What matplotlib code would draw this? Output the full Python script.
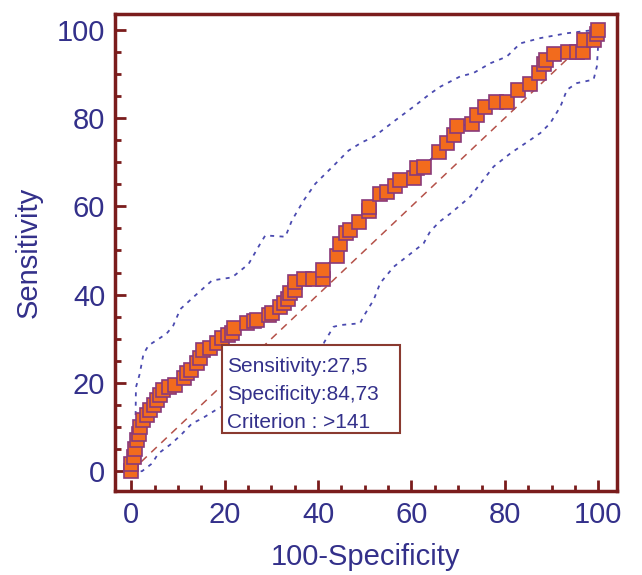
import numpy as np
import matplotlib.pyplot as plt
from matplotlib.patches import Rectangle
from matplotlib.ticker import MultipleLocator

# ROC curve (100-Specificity, Sensitivity)
roc_x = [0, 0, 0.5, 0.9, 1.2, 1.6, 1.9, 2.6, 3.4, 4.1, 4.8, 5.5, 6.2, 6.9, 8.0, 9.4,
         11.2, 11.9, 12.8, 14.1, 14.8, 15.3, 16.9, 18.3, 19.4, 20.8, 21.6, 21.9, 24.8,
         26.2, 27.0, 29.4, 30.1, 31.9, 32.6, 33.5, 34.0, 35.1, 35.1, 37.0, 38.9, 41.0,
         41.0, 44.0, 44.8, 46.0, 46.9, 48.7, 51.0, 51.0, 53.3, 54.7, 56.5, 57.6, 60.5,
         61.2, 62.6, 65.8, 67.5, 69.0, 69.7, 73.0, 74.1, 75.8, 78.2, 80.4, 82.8, 85.4,
         87.2, 88.4, 88.9, 90.6, 93.6, 95.4, 96.8, 97.0, 99.0, 99.7, 100]
roc_y = [0, 1.7, 3.2, 5.1, 7.0, 8.5, 10.0, 11.6, 12.7, 13.8, 15.0, 16.1, 17.2, 18.4, 19.1, 19.5,
         21.0, 22.2, 22.9, 24.4, 25.6, 27.5, 27.8, 29.0, 30.1, 30.8, 31.2, 32.4, 33.6,
         34.1, 34.2, 35.4, 35.9, 37.1, 38.2, 38.9, 40.3, 41.0, 42.9, 43.5, 43.5, 43.5,
         45.6, 48.8, 51.4, 53.9, 54.6, 56.5, 59.0, 59.8, 62.8, 63.3, 64.6, 66.0, 66.4,
         68.6, 69.0, 72.3, 74.3, 76.2, 78.1, 78.7, 80.7, 82.5, 83.7, 83.7, 86.4, 87.8,
         90.2, 92.3, 93.2, 94.5, 94.9, 94.9, 95.0, 97.6, 97.7, 99.0, 100]

# 95% confidence bounds
upper_x = [0, 0.4, 0.9, 1.0, 1.8, 2.6, 3.7, 5.5, 7.6, 9.0, 10.5, 13.7, 17.3, 21.6, 25.1,
           27.6, 28.7, 33.0, 34.4, 36.9, 39.4, 41.5, 43.7, 46.5, 49.4, 51.9, 56.2, 61.0,
           64.0, 66.2, 70.4, 73.3, 76.9, 80.4, 83.3, 87.6, 93.3, 99.7, 100]
upper_y = [0, 3, 10, 19, 22, 26.5, 28.5, 29.7, 31.2, 33, 36.7, 39.8, 43.2, 43.9, 46.9,
           51.5, 53.4, 53.1, 56.8, 61.3, 65.1, 67.3, 69.6, 72.6, 74.5, 75.7, 79.2, 83,
           85.5, 87.1, 89.4, 90.2, 92.4, 93.9, 96.9, 98.1, 99.2, 100, 100]
lower_x = [0, 2.3, 4.4, 5.8, 8.7, 10.9, 13.0, 15.1, 18.0, 25, 30, 35, 38, 41.2, 43.3,
           44.8, 49.0, 49.7, 51.9, 53.3, 56.2, 59.0, 62.6, 64.0, 66.0, 68.5, 72.6, 75.4,
           77.6, 81.2, 85.4, 87.6, 89.7, 91.9, 93.3, 95.4, 99.0, 99.7, 100, 100]
lower_y = [0, 0, 1.7, 4.0, 6.3, 8.5, 10.8, 11.9, 13.8, 18, 21, 24.5, 27, 29, 32.7,
           33.1, 33.5, 35, 38.8, 42.6, 46.3, 48.6, 51.6, 54.3, 56.5, 58.5, 62.2, 66,
           69, 72, 75, 76.6, 78.8, 82.6, 86.4, 87.9, 88.7, 91.7, 97, 100]

box_lines = ["Sensitivity:27,5", "Specificity:84,73", "Criterion : >141"]

frame_col = '#7a1c1c'
text_col = '#33308a'

plt.rcParams['font.family'] = ['Liberation Sans', 'DejaVu Sans']

fig = plt.figure(figsize=(6.42, 5.75), dpi=100)
ax = fig.add_axes([0.179, 0.146, 0.782, 0.830])

ax.plot([0, 100], [0, 100], color='#b5524a', lw=1.1, dashes=(5, 4), zorder=2)
ax.plot(upper_x, upper_y, color='#4a4ab0', lw=1.3, dashes=(2.2, 3), zorder=2)
ax.plot(lower_x, lower_y, color='#4a4ab0', lw=1.3, dashes=(2.2, 3), zorder=2)
ax.plot(roc_x, roc_y, color='#2a2a8a', lw=1.5, marker='s', ms=9.8,
        mfc='#f26b1d', mec='#8a3a7a', mew=1.2, zorder=3)

# criterion box
ax.add_patch(Rectangle((19.5, 8.6), 38.1, 20.0, fc='white', ec='#8a3a30',
                       lw=1.5, zorder=5))
for i, s in enumerate(box_lines):
    ax.text(20.5, 23.6 - i * 6.3, s, color=text_col, fontsize=15,
            va='center', ha='left', zorder=6)

ax.set_xlim(-3.5, 104)
ax.set_ylim(-4.5, 103.6)
ax.xaxis.set_major_locator(MultipleLocator(20))
ax.xaxis.set_minor_locator(MultipleLocator(5))
ax.yaxis.set_major_locator(MultipleLocator(20))
ax.yaxis.set_minor_locator(MultipleLocator(5))
ax.tick_params(which='both', direction='in', color=frame_col, width=2,
               top=False, right=False)
ax.tick_params(which='major', length=8, labelsize=21, labelcolor=text_col, pad=7)
ax.tick_params(which='minor', length=4.5)
for sp in ax.spines.values():
    sp.set_color(frame_col)
    sp.set_linewidth(2.5)

ax.set_xlabel('100-Specificity', fontsize=21, color=text_col, labelpad=10)
ax.set_ylabel('Sensitivity', fontsize=21, color=text_col, labelpad=10)

fig.savefig('out.png', dpi=100)
